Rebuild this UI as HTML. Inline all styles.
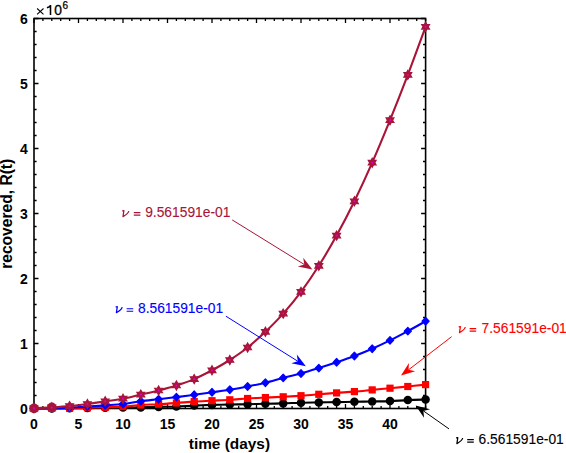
<!DOCTYPE html>
<html><head><meta charset="utf-8"><style>
html,body{margin:0;padding:0;background:#fff;width:566px;height:453px;overflow:hidden}
svg{display:block}
text{font-family:"Liberation Sans",sans-serif}
.tk{font-weight:bold;font-size:14px}
.lb{font-weight:bold;font-size:15.4px}
.an{font-size:13.8px}
.nu{font-family:"Liberation Serif",serif;font-style:italic;font-size:14px}
</style></head><body>
<svg width="566" height="453" viewBox="0 0 566 453">
<rect width="566" height="453" fill="#fff"/>
<path d="M34.00,408.5v-4.5M34.00,18.5v4.5M42.90,408.5v-2.6M42.90,18.5v2.6M51.80,408.5v-2.6M51.80,18.5v2.6M60.70,408.5v-2.6M60.70,18.5v2.6M69.60,408.5v-2.6M69.60,18.5v2.6M78.50,408.5v-4.5M78.50,18.5v4.5M87.40,408.5v-2.6M87.40,18.5v2.6M96.30,408.5v-2.6M96.30,18.5v2.6M105.20,408.5v-2.6M105.20,18.5v2.6M114.10,408.5v-2.6M114.10,18.5v2.6M123.00,408.5v-4.5M123.00,18.5v4.5M131.90,408.5v-2.6M131.90,18.5v2.6M140.80,408.5v-2.6M140.80,18.5v2.6M149.70,408.5v-2.6M149.70,18.5v2.6M158.60,408.5v-2.6M158.60,18.5v2.6M167.50,408.5v-4.5M167.50,18.5v4.5M176.40,408.5v-2.6M176.40,18.5v2.6M185.30,408.5v-2.6M185.30,18.5v2.6M194.20,408.5v-2.6M194.20,18.5v2.6M203.10,408.5v-2.6M203.10,18.5v2.6M212.00,408.5v-4.5M212.00,18.5v4.5M220.90,408.5v-2.6M220.90,18.5v2.6M229.80,408.5v-2.6M229.80,18.5v2.6M238.70,408.5v-2.6M238.70,18.5v2.6M247.60,408.5v-2.6M247.60,18.5v2.6M256.50,408.5v-4.5M256.50,18.5v4.5M265.40,408.5v-2.6M265.40,18.5v2.6M274.30,408.5v-2.6M274.30,18.5v2.6M283.20,408.5v-2.6M283.20,18.5v2.6M292.10,408.5v-2.6M292.10,18.5v2.6M301.00,408.5v-4.5M301.00,18.5v4.5M309.90,408.5v-2.6M309.90,18.5v2.6M318.80,408.5v-2.6M318.80,18.5v2.6M327.70,408.5v-2.6M327.70,18.5v2.6M336.60,408.5v-2.6M336.60,18.5v2.6M345.50,408.5v-4.5M345.50,18.5v4.5M354.40,408.5v-2.6M354.40,18.5v2.6M363.30,408.5v-2.6M363.30,18.5v2.6M372.20,408.5v-2.6M372.20,18.5v2.6M381.10,408.5v-2.6M381.10,18.5v2.6M390.00,408.5v-4.5M390.00,18.5v4.5M398.90,408.5v-2.6M398.90,18.5v2.6M407.80,408.5v-2.6M407.80,18.5v2.6M416.70,408.5v-2.6M416.70,18.5v2.6M425.60,408.5v-2.6M425.60,18.5v2.6M34.0,408.50h4.5M425.6,408.50h-4.5M34.0,395.50h2.6M425.6,395.50h-2.6M34.0,382.50h2.6M425.6,382.50h-2.6M34.0,369.50h2.6M425.6,369.50h-2.6M34.0,356.50h2.6M425.6,356.50h-2.6M34.0,343.50h4.5M425.6,343.50h-4.5M34.0,330.50h2.6M425.6,330.50h-2.6M34.0,317.50h2.6M425.6,317.50h-2.6M34.0,304.50h2.6M425.6,304.50h-2.6M34.0,291.50h2.6M425.6,291.50h-2.6M34.0,278.50h4.5M425.6,278.50h-4.5M34.0,265.50h2.6M425.6,265.50h-2.6M34.0,252.50h2.6M425.6,252.50h-2.6M34.0,239.50h2.6M425.6,239.50h-2.6M34.0,226.50h2.6M425.6,226.50h-2.6M34.0,213.50h4.5M425.6,213.50h-4.5M34.0,200.50h2.6M425.6,200.50h-2.6M34.0,187.50h2.6M425.6,187.50h-2.6M34.0,174.50h2.6M425.6,174.50h-2.6M34.0,161.50h2.6M425.6,161.50h-2.6M34.0,148.50h4.5M425.6,148.50h-4.5M34.0,135.50h2.6M425.6,135.50h-2.6M34.0,122.50h2.6M425.6,122.50h-2.6M34.0,109.50h2.6M425.6,109.50h-2.6M34.0,96.50h2.6M425.6,96.50h-2.6M34.0,83.50h4.5M425.6,83.50h-4.5M34.0,70.50h2.6M425.6,70.50h-2.6M34.0,57.50h2.6M425.6,57.50h-2.6M34.0,44.50h2.6M425.6,44.50h-2.6M34.0,31.50h2.6M425.6,31.50h-2.6M34.0,18.50h4.5M425.6,18.50h-4.5" stroke="#000" stroke-width="1.3" fill="none"/>
<rect x="34.0" y="18.5" width="391.6" height="390.0" fill="none" stroke="#000" stroke-width="1.6"/>
<path d="M34.00,408.50C36.97,408.48 45.87,408.43 51.80,408.40C57.73,408.37 63.67,408.35 69.60,408.30C75.53,408.25 81.47,408.18 87.40,408.10C93.33,408.02 99.27,407.88 105.20,407.80C111.13,407.72 117.07,407.67 123.00,407.60C128.93,407.53 134.87,407.52 140.80,407.40C146.73,407.28 152.67,407.05 158.60,406.90C164.53,406.75 170.47,406.72 176.40,406.50C182.33,406.28 188.27,405.87 194.20,405.60C200.13,405.33 206.07,405.08 212.00,404.90C217.93,404.72 223.87,404.62 229.80,404.50C235.73,404.38 241.67,404.32 247.60,404.20C253.53,404.08 259.47,403.93 265.40,403.80C271.33,403.67 277.27,403.58 283.20,403.40C289.13,403.22 295.07,402.87 301.00,402.70C306.93,402.53 312.87,402.50 318.80,402.40C324.73,402.30 330.67,402.20 336.60,402.10C342.53,402.00 348.47,401.90 354.40,401.80C360.33,401.70 366.27,401.62 372.20,401.50C378.13,401.38 384.07,401.33 390.00,401.10C395.93,400.87 401.87,400.35 407.80,400.10C413.73,399.85 422.63,399.68 425.60,399.60" fill="none" stroke="#000" stroke-width="2.1" stroke-linejoin="round"/>
<circle cx="34.00" cy="408.50" r="4.25" fill="#000"/>
<circle cx="51.80" cy="408.40" r="4.25" fill="#000"/>
<circle cx="69.60" cy="408.30" r="4.25" fill="#000"/>
<circle cx="87.40" cy="408.10" r="4.25" fill="#000"/>
<circle cx="105.20" cy="407.80" r="4.25" fill="#000"/>
<circle cx="123.00" cy="407.60" r="4.25" fill="#000"/>
<circle cx="140.80" cy="407.40" r="4.25" fill="#000"/>
<circle cx="158.60" cy="406.90" r="4.25" fill="#000"/>
<circle cx="176.40" cy="406.50" r="4.25" fill="#000"/>
<circle cx="194.20" cy="405.60" r="4.25" fill="#000"/>
<circle cx="212.00" cy="404.90" r="4.25" fill="#000"/>
<circle cx="229.80" cy="404.50" r="4.25" fill="#000"/>
<circle cx="247.60" cy="404.20" r="4.25" fill="#000"/>
<circle cx="265.40" cy="403.80" r="4.25" fill="#000"/>
<circle cx="283.20" cy="403.40" r="4.25" fill="#000"/>
<circle cx="301.00" cy="402.70" r="4.25" fill="#000"/>
<circle cx="318.80" cy="402.40" r="4.25" fill="#000"/>
<circle cx="336.60" cy="402.10" r="4.25" fill="#000"/>
<circle cx="354.40" cy="401.80" r="4.25" fill="#000"/>
<circle cx="372.20" cy="401.50" r="4.25" fill="#000"/>
<circle cx="390.00" cy="401.10" r="4.25" fill="#000"/>
<circle cx="407.80" cy="400.10" r="4.25" fill="#000"/>
<circle cx="425.60" cy="399.60" r="4.25" fill="#000"/>
<path d="M34.00,408.50C36.97,408.48 45.87,408.45 51.80,408.40C57.73,408.35 63.67,408.30 69.60,408.20C75.53,408.10 81.47,407.95 87.40,407.80C93.33,407.65 99.27,407.50 105.20,407.30C111.13,407.10 117.07,406.98 123.00,406.60C128.93,406.22 134.87,405.40 140.80,405.00C146.73,404.60 152.67,404.53 158.60,404.20C164.53,403.87 170.47,403.43 176.40,403.00C182.33,402.57 188.27,401.98 194.20,401.60C200.13,401.22 206.07,401.00 212.00,400.70C217.93,400.40 223.87,400.17 229.80,399.80C235.73,399.43 241.67,398.87 247.60,398.50C253.53,398.13 259.47,397.88 265.40,397.60C271.33,397.32 277.27,397.12 283.20,396.80C289.13,396.48 295.07,396.12 301.00,395.70C306.93,395.28 312.87,394.77 318.80,394.30C324.73,393.83 330.67,393.35 336.60,392.90C342.53,392.45 348.47,392.10 354.40,391.60C360.33,391.10 366.27,390.47 372.20,389.90C378.13,389.33 384.07,388.77 390.00,388.20C395.93,387.63 401.87,387.10 407.80,386.50C413.73,385.90 422.63,384.92 425.60,384.60" fill="none" stroke="#f00" stroke-width="2.1" stroke-linejoin="round"/>
<rect x="30.40" y="404.90" width="7.2" height="7.2" fill="#f00"/>
<rect x="48.20" y="404.80" width="7.2" height="7.2" fill="#f00"/>
<rect x="66.00" y="404.60" width="7.2" height="7.2" fill="#f00"/>
<rect x="83.80" y="404.20" width="7.2" height="7.2" fill="#f00"/>
<rect x="101.60" y="403.70" width="7.2" height="7.2" fill="#f00"/>
<rect x="119.40" y="403.00" width="7.2" height="7.2" fill="#f00"/>
<rect x="137.20" y="401.40" width="7.2" height="7.2" fill="#f00"/>
<rect x="155.00" y="400.60" width="7.2" height="7.2" fill="#f00"/>
<rect x="172.80" y="399.40" width="7.2" height="7.2" fill="#f00"/>
<rect x="190.60" y="398.00" width="7.2" height="7.2" fill="#f00"/>
<rect x="208.40" y="397.10" width="7.2" height="7.2" fill="#f00"/>
<rect x="226.20" y="396.20" width="7.2" height="7.2" fill="#f00"/>
<rect x="244.00" y="394.90" width="7.2" height="7.2" fill="#f00"/>
<rect x="261.80" y="394.00" width="7.2" height="7.2" fill="#f00"/>
<rect x="279.60" y="393.20" width="7.2" height="7.2" fill="#f00"/>
<rect x="297.40" y="392.10" width="7.2" height="7.2" fill="#f00"/>
<rect x="315.20" y="390.70" width="7.2" height="7.2" fill="#f00"/>
<rect x="333.00" y="389.30" width="7.2" height="7.2" fill="#f00"/>
<rect x="350.80" y="388.00" width="7.2" height="7.2" fill="#f00"/>
<rect x="368.60" y="386.30" width="7.2" height="7.2" fill="#f00"/>
<rect x="386.40" y="384.60" width="7.2" height="7.2" fill="#f00"/>
<rect x="404.20" y="382.90" width="7.2" height="7.2" fill="#f00"/>
<rect x="422.00" y="381.00" width="7.2" height="7.2" fill="#f00"/>
<path d="M34.00,408.50C36.97,408.43 45.87,408.25 51.80,408.10C57.73,407.95 63.67,407.85 69.60,407.60C75.53,407.35 81.47,406.97 87.40,406.60C93.33,406.23 99.27,405.83 105.20,405.40C111.13,404.97 117.07,404.70 123.00,404.00C128.93,403.30 134.87,402.00 140.80,401.20C146.73,400.40 152.67,399.88 158.60,399.20C164.53,398.52 170.47,397.83 176.40,397.10C182.33,396.37 188.27,395.60 194.20,394.80C200.13,394.00 206.07,393.15 212.00,392.30C217.93,391.45 223.87,390.67 229.80,389.70C235.73,388.73 241.67,387.67 247.60,386.50C253.53,385.33 259.47,384.13 265.40,382.70C271.33,381.27 277.27,379.43 283.20,377.90C289.13,376.37 295.07,375.13 301.00,373.50C306.93,371.87 312.87,369.97 318.80,368.10C324.73,366.23 330.67,364.32 336.60,362.30C342.53,360.28 348.47,358.27 354.40,356.00C360.33,353.73 366.27,351.30 372.20,348.70C378.13,346.10 384.07,343.33 390.00,340.40C395.93,337.47 401.87,334.30 407.80,331.10C413.73,327.90 422.63,322.85 425.60,321.20" fill="none" stroke="#00f" stroke-width="2.1" stroke-linejoin="round"/>
<path d="M34.00,404.70L37.60,408.50L34.00,412.30L30.40,408.50Z" fill="#00f" stroke="#00f" stroke-width="1.2" stroke-linejoin="round"/>
<path d="M51.80,404.30L55.40,408.10L51.80,411.90L48.20,408.10Z" fill="#00f" stroke="#00f" stroke-width="1.2" stroke-linejoin="round"/>
<path d="M69.60,403.80L73.20,407.60L69.60,411.40L66.00,407.60Z" fill="#00f" stroke="#00f" stroke-width="1.2" stroke-linejoin="round"/>
<path d="M87.40,402.80L91.00,406.60L87.40,410.40L83.80,406.60Z" fill="#00f" stroke="#00f" stroke-width="1.2" stroke-linejoin="round"/>
<path d="M105.20,401.60L108.80,405.40L105.20,409.20L101.60,405.40Z" fill="#00f" stroke="#00f" stroke-width="1.2" stroke-linejoin="round"/>
<path d="M123.00,400.20L126.60,404.00L123.00,407.80L119.40,404.00Z" fill="#00f" stroke="#00f" stroke-width="1.2" stroke-linejoin="round"/>
<path d="M140.80,397.40L144.40,401.20L140.80,405.00L137.20,401.20Z" fill="#00f" stroke="#00f" stroke-width="1.2" stroke-linejoin="round"/>
<path d="M158.60,395.40L162.20,399.20L158.60,403.00L155.00,399.20Z" fill="#00f" stroke="#00f" stroke-width="1.2" stroke-linejoin="round"/>
<path d="M176.40,393.30L180.00,397.10L176.40,400.90L172.80,397.10Z" fill="#00f" stroke="#00f" stroke-width="1.2" stroke-linejoin="round"/>
<path d="M194.20,391.00L197.80,394.80L194.20,398.60L190.60,394.80Z" fill="#00f" stroke="#00f" stroke-width="1.2" stroke-linejoin="round"/>
<path d="M212.00,388.50L215.60,392.30L212.00,396.10L208.40,392.30Z" fill="#00f" stroke="#00f" stroke-width="1.2" stroke-linejoin="round"/>
<path d="M229.80,385.90L233.40,389.70L229.80,393.50L226.20,389.70Z" fill="#00f" stroke="#00f" stroke-width="1.2" stroke-linejoin="round"/>
<path d="M247.60,382.70L251.20,386.50L247.60,390.30L244.00,386.50Z" fill="#00f" stroke="#00f" stroke-width="1.2" stroke-linejoin="round"/>
<path d="M265.40,378.90L269.00,382.70L265.40,386.50L261.80,382.70Z" fill="#00f" stroke="#00f" stroke-width="1.2" stroke-linejoin="round"/>
<path d="M283.20,374.10L286.80,377.90L283.20,381.70L279.60,377.90Z" fill="#00f" stroke="#00f" stroke-width="1.2" stroke-linejoin="round"/>
<path d="M301.00,369.70L304.60,373.50L301.00,377.30L297.40,373.50Z" fill="#00f" stroke="#00f" stroke-width="1.2" stroke-linejoin="round"/>
<path d="M318.80,364.30L322.40,368.10L318.80,371.90L315.20,368.10Z" fill="#00f" stroke="#00f" stroke-width="1.2" stroke-linejoin="round"/>
<path d="M336.60,358.50L340.20,362.30L336.60,366.10L333.00,362.30Z" fill="#00f" stroke="#00f" stroke-width="1.2" stroke-linejoin="round"/>
<path d="M354.40,352.20L358.00,356.00L354.40,359.80L350.80,356.00Z" fill="#00f" stroke="#00f" stroke-width="1.2" stroke-linejoin="round"/>
<path d="M372.20,344.90L375.80,348.70L372.20,352.50L368.60,348.70Z" fill="#00f" stroke="#00f" stroke-width="1.2" stroke-linejoin="round"/>
<path d="M390.00,336.60L393.60,340.40L390.00,344.20L386.40,340.40Z" fill="#00f" stroke="#00f" stroke-width="1.2" stroke-linejoin="round"/>
<path d="M407.80,327.30L411.40,331.10L407.80,334.90L404.20,331.10Z" fill="#00f" stroke="#00f" stroke-width="1.2" stroke-linejoin="round"/>
<path d="M425.60,317.40L429.20,321.20L425.60,325.00L422.00,321.20Z" fill="#00f" stroke="#00f" stroke-width="1.2" stroke-linejoin="round"/>
<path d="M34.00,408.30C36.97,408.15 45.87,407.77 51.80,407.40C57.73,407.03 63.67,406.67 69.60,406.10C75.53,405.53 81.47,404.80 87.40,404.00C93.33,403.20 99.27,402.18 105.20,401.30C111.13,400.42 117.07,399.82 123.00,398.70C128.93,397.58 134.87,395.97 140.80,394.60C146.73,393.23 152.67,392.02 158.60,390.50C164.53,388.98 170.47,387.40 176.40,385.50C182.33,383.60 188.27,381.63 194.20,379.10C200.13,376.57 206.07,373.48 212.00,370.30C217.93,367.12 223.87,363.80 229.80,360.00C235.73,356.20 241.67,352.20 247.60,347.50C253.53,342.80 259.47,337.45 265.40,331.80C271.33,326.15 277.27,320.25 283.20,313.60C289.13,306.95 295.07,299.87 301.00,291.90C306.93,283.93 312.87,275.18 318.80,265.80C324.73,256.42 330.67,246.35 336.60,235.60C342.53,224.85 348.47,213.45 354.40,201.30C360.33,189.15 366.27,176.22 372.20,162.70C378.13,149.18 384.07,134.83 390.00,120.20C395.93,105.57 401.87,90.47 407.80,74.90C413.73,59.33 422.63,34.82 425.60,26.80" fill="none" stroke="#A91437" stroke-width="2.1" stroke-linejoin="round"/>
<circle cx="34.00" cy="408.30" r="4.8" fill="#A8153C"/>
<path d="M34.00,403.80L32.70,406.05L30.10,406.05L31.40,408.30L30.10,410.55L32.70,410.55L34.00,412.80L35.30,410.55L37.90,410.55L36.60,408.30L37.90,406.05L35.30,406.05Z" fill="#A8153C" stroke="#A8153C" stroke-width="1.2" stroke-linejoin="miter"/>
<circle cx="34.00" cy="408.30" r="1.0" fill="#E000C8"/>
<circle cx="51.80" cy="407.40" r="4.8" fill="#A8153C"/>
<path d="M51.80,402.90L50.50,405.15L47.90,405.15L49.20,407.40L47.90,409.65L50.50,409.65L51.80,411.90L53.10,409.65L55.70,409.65L54.40,407.40L55.70,405.15L53.10,405.15Z" fill="#A8153C" stroke="#A8153C" stroke-width="1.2" stroke-linejoin="miter"/>
<circle cx="51.80" cy="407.40" r="1.0" fill="#E000C8"/>
<path d="M69.60,401.60L68.30,403.85L65.70,403.85L67.00,406.10L65.70,408.35L68.30,408.35L69.60,410.60L70.90,408.35L73.50,408.35L72.20,406.10L73.50,403.85L70.90,403.85Z" fill="#A8153C" stroke="#A8153C" stroke-width="1.2" stroke-linejoin="miter"/>
<circle cx="69.60" cy="406.10" r="1.0" fill="#E000C8"/>
<path d="M87.40,399.50L86.10,401.75L83.50,401.75L84.80,404.00L83.50,406.25L86.10,406.25L87.40,408.50L88.70,406.25L91.30,406.25L90.00,404.00L91.30,401.75L88.70,401.75Z" fill="#A8153C" stroke="#A8153C" stroke-width="1.2" stroke-linejoin="miter"/>
<circle cx="87.40" cy="404.00" r="1.0" fill="#E000C8"/>
<path d="M105.20,396.80L103.90,399.05L101.30,399.05L102.60,401.30L101.30,403.55L103.90,403.55L105.20,405.80L106.50,403.55L109.10,403.55L107.80,401.30L109.10,399.05L106.50,399.05Z" fill="#A8153C" stroke="#A8153C" stroke-width="1.2" stroke-linejoin="miter"/>
<circle cx="105.20" cy="401.30" r="1.0" fill="#E000C8"/>
<path d="M123.00,394.20L121.70,396.45L119.10,396.45L120.40,398.70L119.10,400.95L121.70,400.95L123.00,403.20L124.30,400.95L126.90,400.95L125.60,398.70L126.90,396.45L124.30,396.45Z" fill="#A8153C" stroke="#A8153C" stroke-width="1.2" stroke-linejoin="miter"/>
<circle cx="123.00" cy="398.70" r="1.0" fill="#E000C8"/>
<path d="M140.80,390.10L139.50,392.35L136.90,392.35L138.20,394.60L136.90,396.85L139.50,396.85L140.80,399.10L142.10,396.85L144.70,396.85L143.40,394.60L144.70,392.35L142.10,392.35Z" fill="#A8153C" stroke="#A8153C" stroke-width="1.2" stroke-linejoin="miter"/>
<circle cx="140.80" cy="394.60" r="1.0" fill="#E000C8"/>
<path d="M158.60,386.00L157.30,388.25L154.70,388.25L156.00,390.50L154.70,392.75L157.30,392.75L158.60,395.00L159.90,392.75L162.50,392.75L161.20,390.50L162.50,388.25L159.90,388.25Z" fill="#A8153C" stroke="#A8153C" stroke-width="1.2" stroke-linejoin="miter"/>
<circle cx="158.60" cy="390.50" r="1.0" fill="#E000C8"/>
<path d="M176.40,381.00L175.10,383.25L172.50,383.25L173.80,385.50L172.50,387.75L175.10,387.75L176.40,390.00L177.70,387.75L180.30,387.75L179.00,385.50L180.30,383.25L177.70,383.25Z" fill="#A8153C" stroke="#A8153C" stroke-width="1.2" stroke-linejoin="miter"/>
<circle cx="176.40" cy="385.50" r="1.0" fill="#E000C8"/>
<path d="M194.20,374.60L192.90,376.85L190.30,376.85L191.60,379.10L190.30,381.35L192.90,381.35L194.20,383.60L195.50,381.35L198.10,381.35L196.80,379.10L198.10,376.85L195.50,376.85Z" fill="#A8153C" stroke="#A8153C" stroke-width="1.2" stroke-linejoin="miter"/>
<circle cx="194.20" cy="379.10" r="1.0" fill="#E000C8"/>
<path d="M212.00,365.80L210.70,368.05L208.10,368.05L209.40,370.30L208.10,372.55L210.70,372.55L212.00,374.80L213.30,372.55L215.90,372.55L214.60,370.30L215.90,368.05L213.30,368.05Z" fill="#A8153C" stroke="#A8153C" stroke-width="1.2" stroke-linejoin="miter"/>
<circle cx="212.00" cy="370.30" r="1.0" fill="#E000C8"/>
<path d="M229.80,355.50L228.50,357.75L225.90,357.75L227.20,360.00L225.90,362.25L228.50,362.25L229.80,364.50L231.10,362.25L233.70,362.25L232.40,360.00L233.70,357.75L231.10,357.75Z" fill="#A8153C" stroke="#A8153C" stroke-width="1.2" stroke-linejoin="miter"/>
<circle cx="229.80" cy="360.00" r="1.0" fill="#E000C8"/>
<path d="M247.60,343.00L246.30,345.25L243.70,345.25L245.00,347.50L243.70,349.75L246.30,349.75L247.60,352.00L248.90,349.75L251.50,349.75L250.20,347.50L251.50,345.25L248.90,345.25Z" fill="#A8153C" stroke="#A8153C" stroke-width="1.2" stroke-linejoin="miter"/>
<circle cx="247.60" cy="347.50" r="1.0" fill="#E000C8"/>
<path d="M265.40,327.30L264.10,329.55L261.50,329.55L262.80,331.80L261.50,334.05L264.10,334.05L265.40,336.30L266.70,334.05L269.30,334.05L268.00,331.80L269.30,329.55L266.70,329.55Z" fill="#A8153C" stroke="#A8153C" stroke-width="1.2" stroke-linejoin="miter"/>
<circle cx="265.40" cy="331.80" r="1.0" fill="#E000C8"/>
<path d="M283.20,309.10L281.90,311.35L279.30,311.35L280.60,313.60L279.30,315.85L281.90,315.85L283.20,318.10L284.50,315.85L287.10,315.85L285.80,313.60L287.10,311.35L284.50,311.35Z" fill="#A8153C" stroke="#A8153C" stroke-width="1.2" stroke-linejoin="miter"/>
<circle cx="283.20" cy="313.60" r="1.0" fill="#E000C8"/>
<path d="M301.00,287.40L299.70,289.65L297.10,289.65L298.40,291.90L297.10,294.15L299.70,294.15L301.00,296.40L302.30,294.15L304.90,294.15L303.60,291.90L304.90,289.65L302.30,289.65Z" fill="#A8153C" stroke="#A8153C" stroke-width="1.2" stroke-linejoin="miter"/>
<circle cx="301.00" cy="291.90" r="1.0" fill="#E000C8"/>
<path d="M318.80,261.30L317.50,263.55L314.90,263.55L316.20,265.80L314.90,268.05L317.50,268.05L318.80,270.30L320.10,268.05L322.70,268.05L321.40,265.80L322.70,263.55L320.10,263.55Z" fill="#A8153C" stroke="#A8153C" stroke-width="1.2" stroke-linejoin="miter"/>
<circle cx="318.80" cy="265.80" r="1.0" fill="#E000C8"/>
<path d="M336.60,231.10L335.30,233.35L332.70,233.35L334.00,235.60L332.70,237.85L335.30,237.85L336.60,240.10L337.90,237.85L340.50,237.85L339.20,235.60L340.50,233.35L337.90,233.35Z" fill="#A8153C" stroke="#A8153C" stroke-width="1.2" stroke-linejoin="miter"/>
<circle cx="336.60" cy="235.60" r="1.0" fill="#E000C8"/>
<path d="M354.40,196.80L353.10,199.05L350.50,199.05L351.80,201.30L350.50,203.55L353.10,203.55L354.40,205.80L355.70,203.55L358.30,203.55L357.00,201.30L358.30,199.05L355.70,199.05Z" fill="#A8153C" stroke="#A8153C" stroke-width="1.2" stroke-linejoin="miter"/>
<circle cx="354.40" cy="201.30" r="1.0" fill="#E000C8"/>
<path d="M372.20,158.20L370.90,160.45L368.30,160.45L369.60,162.70L368.30,164.95L370.90,164.95L372.20,167.20L373.50,164.95L376.10,164.95L374.80,162.70L376.10,160.45L373.50,160.45Z" fill="#A8153C" stroke="#A8153C" stroke-width="1.2" stroke-linejoin="miter"/>
<circle cx="372.20" cy="162.70" r="1.0" fill="#E000C8"/>
<path d="M390.00,115.70L388.70,117.95L386.10,117.95L387.40,120.20L386.10,122.45L388.70,122.45L390.00,124.70L391.30,122.45L393.90,122.45L392.60,120.20L393.90,117.95L391.30,117.95Z" fill="#A8153C" stroke="#A8153C" stroke-width="1.2" stroke-linejoin="miter"/>
<circle cx="390.00" cy="120.20" r="1.0" fill="#E000C8"/>
<path d="M407.80,70.40L406.50,72.65L403.90,72.65L405.20,74.90L403.90,77.15L406.50,77.15L407.80,79.40L409.10,77.15L411.70,77.15L410.40,74.90L411.70,72.65L409.10,72.65Z" fill="#A8153C" stroke="#A8153C" stroke-width="1.2" stroke-linejoin="miter"/>
<circle cx="407.80" cy="74.90" r="1.0" fill="#E000C8"/>
<path d="M425.60,22.30L424.30,24.55L421.70,24.55L423.00,26.80L421.70,29.05L424.30,29.05L425.60,31.30L426.90,29.05L429.50,29.05L428.20,26.80L429.50,24.55L426.90,24.55Z" fill="#A8153C" stroke="#A8153C" stroke-width="1.2" stroke-linejoin="miter"/>
<circle cx="425.60" cy="26.80" r="1.0" fill="#E000C8"/>
<text class="tk" x="34.00" y="428.6" text-anchor="middle">0</text>
<text class="tk" x="78.50" y="428.6" text-anchor="middle">5</text>
<text class="tk" x="123.00" y="428.6" text-anchor="middle">10</text>
<text class="tk" x="167.50" y="428.6" text-anchor="middle">15</text>
<text class="tk" x="212.00" y="428.6" text-anchor="middle">20</text>
<text class="tk" x="256.50" y="428.6" text-anchor="middle">25</text>
<text class="tk" x="301.00" y="428.6" text-anchor="middle">30</text>
<text class="tk" x="345.50" y="428.6" text-anchor="middle">35</text>
<text class="tk" x="390.00" y="428.6" text-anchor="middle">40</text>
<text class="tk" x="27.7" y="413.70" text-anchor="end">0</text>
<text class="tk" x="27.7" y="348.70" text-anchor="end">1</text>
<text class="tk" x="27.7" y="283.70" text-anchor="end">2</text>
<text class="tk" x="27.7" y="218.70" text-anchor="end">3</text>
<text class="tk" x="27.7" y="153.70" text-anchor="end">4</text>
<text class="tk" x="27.7" y="88.70" text-anchor="end">5</text>
<text class="tk" x="27.7" y="23.70" text-anchor="end">6</text>
<path d="M37.1,8.5L43.5,14.3M43.5,8.5L37.1,14.3" stroke="#000" stroke-width="1.05"/>
<path d="M50.5,5.1V14.9M50.6,5.3C49.9,6.7 48.6,7.4 46.9,7.7" stroke="#000" stroke-width="1.55" fill="none"/><text x="54.2" y="14.9" font-size="13.8" stroke="#000" stroke-width="0.3">0</text><text x="62.5" y="8.5" font-size="10" stroke="#000" stroke-width="0.25">6</text>
<text class="lb" x="229.4" y="449.2" text-anchor="middle">time (days)</text>
<text class="lb" transform="translate(12,213.8) rotate(-90)" text-anchor="middle" style="font-size:15.6px">recovered, R(t)</text>
<path d="M122.20,210.90L123.90,210.60L123.00,216.60C126.00,215.00 128.40,213.00 128.80,211.00" fill="none" stroke="#A91437" stroke-width="1.25" stroke-linejoin="round"/><path d="M133.80,212.60h6.6M133.80,215.10h6.6" stroke="#A91437" stroke-width="1.15"/><text x="145.2" y="216.9" fill="#A91437" stroke="#A91437" stroke-width="0.12" class="an">9.561591e-01</text>
<path d="M115.60,307.00L117.30,306.70L116.40,312.70C119.40,311.10 121.80,309.10 122.20,307.10" fill="none" stroke="#0000FF" stroke-width="1.25" stroke-linejoin="round"/><path d="M126.60,308.70h6.6M126.60,311.20h6.6" stroke="#0000FF" stroke-width="1.15"/><text x="138.0" y="313.0" fill="#0000FF" stroke="#0000FF" stroke-width="0.12" class="an">8.561591e-01</text>
<path d="M458.70,326.90L460.40,326.60L459.50,332.60C462.50,331.00 464.90,329.00 465.30,327.00" fill="none" stroke="#FF0000" stroke-width="1.25" stroke-linejoin="round"/><path d="M469.60,328.60h6.6M469.60,331.10h6.6" stroke="#FF0000" stroke-width="1.15"/><text x="481.6" y="332.9" fill="#FF0000" stroke="#FF0000" stroke-width="0.12" class="an">7.561591e-01</text>
<path d="M456.10,437.90L457.80,437.60L456.90,443.60C459.90,442.00 462.30,440.00 462.70,438.00" fill="none" stroke="#000" stroke-width="1.25" stroke-linejoin="round"/><path d="M467.20,439.60h6.6M467.20,442.10h6.6" stroke="#000" stroke-width="1.15"/><text x="478.6" y="443.9" fill="#000" stroke="#000" stroke-width="0.12" class="an">6.561591e-01</text>
<line x1="232.2" y1="219.9" x2="304.30" y2="264.49" stroke="#A91437" stroke-width="1"/><path d="M312.40,269.50L297.76,266.56L304.30,264.49L303.23,257.71Z" fill="#A91437"/>
<line x1="225.9" y1="316.2" x2="297.83" y2="361.25" stroke="#0000FF" stroke-width="1"/><path d="M305.90,366.30L291.27,363.28L297.83,361.25L296.79,354.46Z" fill="#0000FF"/>
<line x1="451.6" y1="336.7" x2="408.55" y2="369.80" stroke="#FF0000" stroke-width="1"/><path d="M401.00,375.60L408.93,362.94L408.55,369.80L415.27,371.19Z" fill="#FF0000"/>
<line x1="449.0" y1="428.9" x2="423.39" y2="410.88" stroke="#000" stroke-width="1"/><path d="M415.60,405.40L430.04,409.20L423.39,410.88L424.06,417.71Z" fill="#000"/>
</svg></body></html>
